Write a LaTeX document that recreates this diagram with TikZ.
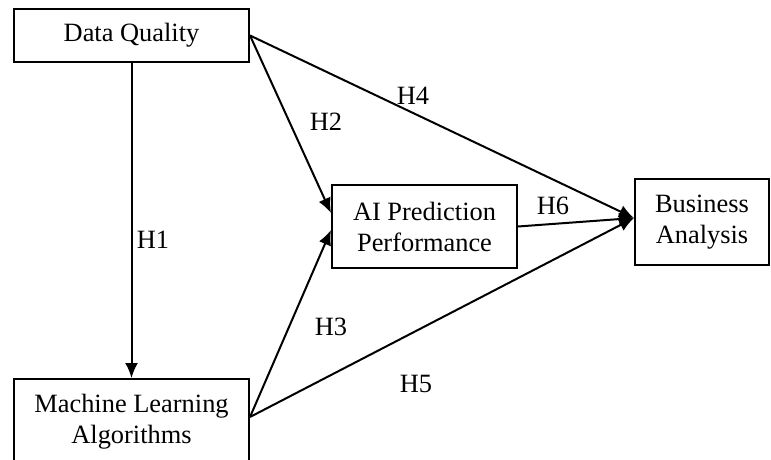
\documentclass[tikz,border=0pt]{standalone}
\usepackage{fontspec}
\setmainfont{Liberation Serif}
\usetikzlibrary{arrows.meta,calc}
\tikzset{box/.style={draw,line width=1pt,align=center,inner sep=0pt,
  font=\fontsize{13.2}{15.5}\selectfont},
  link/.style={-{Latex[length=7.5pt,width=6.5pt]},line width=1pt},
  hlabel/.style={font=\fontsize{13.2}{14}\selectfont,inner sep=1pt}}
\begin{document}
\begin{tikzpicture}[x=0.5pt,y=-0.5pt]
 \useasboundingbox (0,0) rectangle (771,460);
 % the four constructs
 \node[box,minimum width=117.5pt,minimum height=26.5pt] (dq) at (131.5,35.5) {Data Quality};
 \node[box,minimum width=117.5pt,minimum height=43pt] (ml) at (131.5,422) {Machine Learning\\Algorithms};
 \node[box,minimum width=92.5pt,minimum height=41.5pt] (ai) at (424.5,226.5) {AI Prediction\\Performance};
 \node[box,minimum width=67pt,minimum height=43pt] (ba) at (702,222) {Business\\Analysis};
 \coordinate (mlOut) at ($(ml.east)+(0,-5)$);
 \coordinate (aiTop) at ($(ai.west)+(0,-13.5)$);
 \coordinate (aiBot) at ($(ai.west)+(0,3.5)$);
 \coordinate (baIn) at ($(ba.west)+(0,-4)$);
 % hypotheses
 \draw[link] (dq.south)--(ml.north);
 \draw[link] (dq.east)--(aiTop);
 \draw[link] (dq.east)--(baIn);
 \draw[link] (mlOut)--(aiBot);
 \draw[link] (mlOut)--(baIn);
 \draw[link] (ai.east)--(baIn);
 \node[hlabel] (h1) at (153,240) {H1};
 \node[hlabel] (h2) at (326,122) {H2};
 \node[hlabel] (h3) at (331,327) {H3};
 \node[hlabel] (h4) at (413,96) {H4};
 \node[hlabel] (h5) at (416,384) {H5};
 \node[hlabel] (h6) at (553,206) {H6};
\end{tikzpicture}
\end{document}
